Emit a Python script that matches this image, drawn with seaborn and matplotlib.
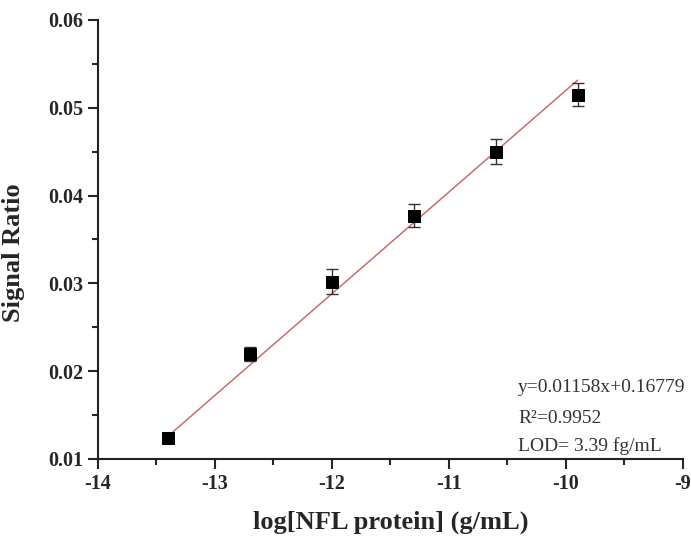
import numpy as np
import pandas as pd
import matplotlib
matplotlib.use('Agg')
import matplotlib.pyplot as plt
from matplotlib.ticker import MultipleLocator
import seaborn as sns

# data
log_conc = [-13.4, -12.7, -12.0, -11.3, -10.6, -9.9]
signal = [0.0124, 0.0220, 0.0302, 0.0377, 0.0450, 0.0515]
signal_err = [0.0003, 0.0008, 0.0014, 0.0013, 0.0014, 0.0013]
slope = 0.01158
intercept = 0.16779
fit_labels = ['y=0.01158x+0.16779', 'R²=0.9952', 'LOD= 3.39 fg/mL']

sns.set_style('ticks')
plt.rcParams['font.family'] = ['Liberation Serif', 'DejaVu Serif']

df = pd.DataFrame({'x': log_conc, 'y': signal})
fit_x = np.array([log_conc[0], log_conc[-1]])
fit = pd.DataFrame({'x': fit_x, 'y': slope * fit_x + intercept})

fig = plt.figure(figsize=(6.91, 5.36), dpi=100)
ax = fig.add_axes([0.1418, 0.1437, 0.8466, 0.819])

sns.lineplot(data=fit, x='x', y='y', ax=ax, color='#d06a6a', linewidth=1.1, zorder=2)
ax.errorbar(log_conc, signal, yerr=signal_err, fmt='none', ecolor='#333333',
            elinewidth=1.0, capsize=4, capthick=1.0, zorder=3)
sns.scatterplot(data=df, x='x', y='y', ax=ax, marker='s', s=80, color='black',
                edgecolor='black', zorder=4)

ax.set_xlim(-14, -9)
ax.set_ylim(0.01, 0.06)
ax.xaxis.set_minor_locator(MultipleLocator(0.5))
ax.yaxis.set_minor_locator(MultipleLocator(0.005))
ax.set_xticks(range(-14, -8))
ax.set_xticklabels([str(v) for v in range(-14, -8)])
ax.set_yticks([0.01, 0.02, 0.03, 0.04, 0.05, 0.06])
ax.set_yticklabels(['0.01', '0.02', '0.03', '0.04', '0.05', '0.06'])

ax.tick_params(which='major', direction='out', length=7, width=1.5, labelsize=14.5)
ax.tick_params(which='minor', direction='out', length=4, width=1.5)
for lab in ax.get_xticklabels() + ax.get_yticklabels():
    lab.set_fontweight('bold')

sns.despine(ax=ax)
for side in ['left', 'bottom']:
    ax.spines[side].set_linewidth(1.5)
    ax.spines[side].set_color('#222222')

ax.set_xlabel('log[NFL protein] (g/mL)', fontsize=19, fontweight='bold', labelpad=12)
ax.set_ylabel('Signal Ratio', fontsize=19, fontweight='bold', labelpad=7)
ax.yaxis.set_label_coords(-0.125, 0.47)

for lab, yy in zip(fit_labels, [0.162, 0.093, 0.030]):
    ax.text(0.718, yy, lab, transform=ax.transAxes, fontsize=14, va='center', ha='left',
            color='#333333')

fig.savefig('out.png', dpi=100)
